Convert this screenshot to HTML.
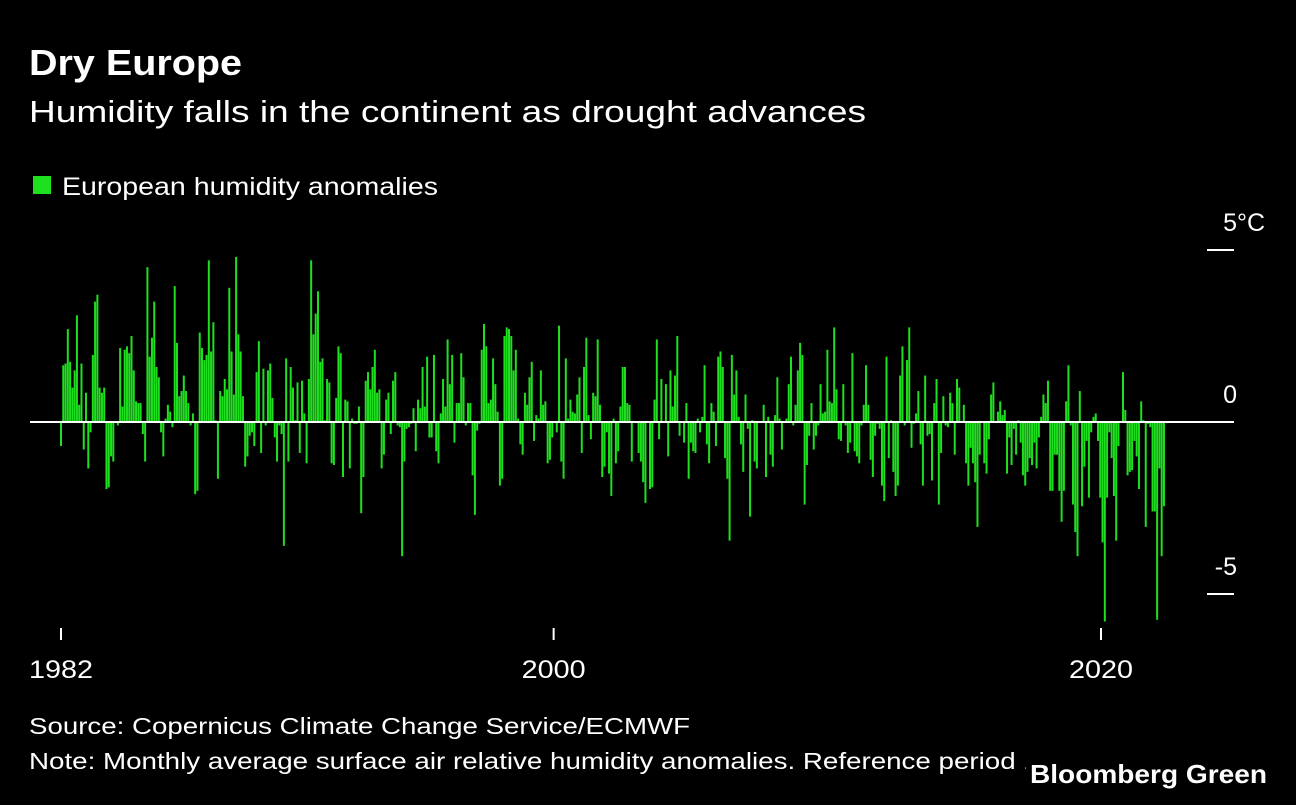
<!DOCTYPE html>
<html><head><meta charset="utf-8">
<style>
html,body{margin:0;padding:0;background:#000;}
body{width:1296px;height:800px;overflow:hidden;position:relative;font-family:"Liberation Sans",Arial,sans-serif;color:#fff;}
svg text{font-family:"Liberation Sans",Arial,sans-serif;}
</style></head>
<body>
<svg id="chart" width="1296" height="800" viewBox="0 0 1296 800" xmlns="http://www.w3.org/2000/svg">
<rect x="0" y="0" width="1296" height="800" fill="#000"/>
<text x="29" y="75" font-size="36" font-weight="bold" fill="#fff" textLength="213" lengthAdjust="spacingAndGlyphs">Dry Europe</text>
<text x="29" y="122" font-size="31" fill="#fff" textLength="837" lengthAdjust="spacingAndGlyphs">Humidity falls in the continent as drought advances</text>
<rect x="33" y="176" width="18" height="18" fill="#1ee01e"/>
<text x="62" y="195" font-size="25" fill="#fff" textLength="376" lengthAdjust="spacingAndGlyphs">European humidity anomalies</text>
<g id="bars"></g>
<g id="axes"></g>
<text x="29" y="734" font-size="23" fill="#fff" textLength="661" lengthAdjust="spacingAndGlyphs">Source: Copernicus Climate Change Service/ECMWF</text>
<text x="29" y="769" font-size="23" fill="#fff" textLength="1127" lengthAdjust="spacingAndGlyphs">Note: Monthly average surface air relative humidity anomalies. Reference period 1991-2020</text>
<rect x="1026" y="748" width="270" height="52" fill="#000"/>
<text x="1030" y="783" font-size="26" font-weight="bold" fill="#fff" textLength="237" lengthAdjust="spacingAndGlyphs">Bloomberg Green</text>
</svg>
<script>
const startYear = 1982;
const endYear = 2022.3;
const yTicks = [5, 0, -5];
const yTickLabels = ["5", "0", "-5"];
const xTicks = [1982, 2000, 2020];
const values = [
-0.7,1.65,1.7,2.7,1.75,1.0,1.5,3.1,0.5,1.7,-0.8,0.85,-1.35,-0.3,1.95,3.5,3.7,1.0,0.85,1.0,-1.95,-1.9,-1.0,-1.15,0.02,-0.1,2.15,0.45,2.1,2.2,2.0,2.5,1.5,0.6,0.55,0.55,-0.35,-1.15,4.5,1.9,2.45,3.5,1.6,1.3,-0.3,-1.0,0.1,
0.5,0.3,-0.15,3.95,2.3,0.75,0.9,1.35,0.9,0.55,-0.1,0.25,-2.1,-2.0,2.6,2.15,1.8,1.95,4.7,2.05,2.9,0.05,-1.65,0.9,0.75,1.25,0.95,3.9,2.05,0.8,4.8,2.55,2.05,0.75,-1.3,-1.0,-0.4,-0.3,-0.7,1.45,2.35,-0.9,1.55,-0.1,1.5,1.7,0.7,-0.45,
-1.15,-0.1,-0.35,-3.6,1.85,-1.15,1.6,1.0,0.05,1.15,-0.9,1.2,0.25,-1.2,1.25,4.7,2.55,3.15,3.8,1.75,1.85,0.05,1.25,1.15,-1.2,-1.25,0.7,2.2,2.0,-1.6,0.65,0.6,-1.35,0.1,-0.05,-0.05,0.45,-2.65,-1.6,1.2,1.45,0.95,1.6,2.1,0.85,0.95,-1.35,-0.95,0.65,
0.85,-0.35,1.2,1.45,-0.1,-0.15,-3.9,-1.15,-0.2,-0.15,-0.05,0.4,-0.85,0.65,0.4,1.6,0.45,1.9,-0.45,-0.45,1.95,-0.85,-1.2,0.25,1.25,0.45,2.4,1.1,1.95,-0.6,0.55,0.55,2.0,1.3,-0.1,0.55,0.55,-1.55,-2.7,-0.25,-0.05,2.1,2.85,2.2,0.55,0.65,1.85,1.1,
0.3,-1.85,-1.65,2.5,2.75,2.7,2.5,1.5,2.1,0.1,-0.65,-0.95,0.85,0.5,1.3,1.75,-0.55,0.2,0.1,1.5,0.5,0.6,-1.2,-1.1,-0.45,0.02,-0.3,2.8,-1.15,-1.65,1.85,0.1,0.65,0.3,0.25,0.8,1.3,-0.9,1.6,2.45,0.2,-0.5,0.85,0.75,2.4,0.5,-1.6,-1.3,
-0.3,-1.5,-2.15,0.1,-1.2,-0.85,0.45,1.6,1.6,0.55,0.5,-1.15,0.02,0.02,-0.9,-1.15,-1.75,-2.35,0.02,-1.95,-1.9,0.65,2.4,-0.5,1.25,0.03,1.1,-1.0,1.5,0.45,1.35,2.5,-0.4,0.02,-0.6,0.55,-1.65,-0.6,-0.85,-0.9,0.1,-0.3,0.15,1.65,-0.65,-1.2,0.55,0.3,
-0.7,1.9,2.05,1.6,-1.05,-1.65,-3.45,1.95,0.8,1.5,0.15,-0.65,-1.45,0.8,-0.2,-2.75,0.05,-1.15,-1.35,0.02,0.02,0.5,-1.6,0.15,-0.95,-1.3,0.2,1.3,0.1,-0.8,0.02,0.1,1.1,1.9,-0.1,0.5,1.5,2.3,1.95,-2.4,-1.25,-0.4,0.55,-0.8,-0.4,-0.1,1.1,0.25,
0.3,2.1,0.6,0.55,2.75,0.95,-0.5,-0.55,1.1,-0.1,-0.9,-0.6,2.0,-0.85,-1.0,-1.2,-0.1,0.5,1.65,0.5,-1.1,-1.6,-0.4,-0.05,-0.2,-1.85,-2.3,1.9,-1.05,0.05,-1.45,-2.15,-1.85,1.35,2.2,-0.1,1.8,2.75,-0.75,-0.05,0.25,0.9,-0.65,-1.85,1.35,-0.4,-0.35,-1.7,0.55,
1.25,-2.4,-0.9,0.75,-0.1,-0.15,0.85,0.55,-0.95,1.25,1.0,0.02,0.5,-1.2,-1.85,-0.75,-1.2,-1.75,-3.05,-0.95,0.02,-1.2,-1.5,-0.5,0.8,1.15,0.02,0.3,0.6,0.2,0.35,-1.5,-0.45,-1.25,-0.2,-0.95,0.05,-0.6,-1.55,-1.85,-1.45,-1.05,-1.25,-0.6,-1.35,-0.45,0.15,0.8,
0.55,1.2,-2.0,-2.0,-0.95,-0.95,-2.0,-2.9,-2.0,0.6,1.65,-0.1,-2.4,-3.2,-3.9,0.9,-2.45,-1.3,-0.55,-2.2,-0.3,0.15,0.25,-0.55,-2.2,-3.5,-5.8,-2.2,-0.3,-1.05,-2.15,-3.45,-0.7,0.02,1.45,0.35,-1.55,-1.45,-1.4,-0.55,-1.0,-1.95,0.6,0.05,-3.05,-0.05,-0.15,-2.6,-2.6,-5.75,-1.35,-3.9,-2.45
];
const NS = "http://www.w3.org/2000/svg";
const xYear = y => 61 + (y - 1982) * (1101 - 61) / 38;
const yVal = v => 422 - v * 34.4;
const barsG = document.getElementById('bars');
const n = values.length;
values.forEach((v, i) => {
  const yr = startYear + i * (endYear - startYear) / (n - 1);
  const cx = xYear(yr);
  const r = document.createElementNS(NS, 'rect');
  
  
  r.setAttribute('x', (cx - 1).toFixed(2));
  r.setAttribute('width', 2);
  r.setAttribute('y', Math.min(yVal(v), yVal(0)).toFixed(2));
  r.setAttribute('height', Math.max(Math.abs(yVal(v) - yVal(0)), 0.5).toFixed(2));
  r.setAttribute('fill', '#1ee01e');
  barsG.appendChild(r);
});
const axG = document.getElementById('axes');
const zl = document.createElementNS(NS, 'line');


zl.setAttribute('x1', 30); zl.setAttribute('x2', 1234);
zl.setAttribute('y1', yVal(0)); zl.setAttribute('y2', yVal(0));
zl.setAttribute('stroke', '#fff'); zl.setAttribute('stroke-width', 2);
axG.appendChild(zl);
yTicks.forEach((t, i) => {
  const l = document.createElementNS(NS, 'line');
  
  
  l.setAttribute('x1', 1207); l.setAttribute('x2', 1234);
  l.setAttribute('y1', yVal(t)); l.setAttribute('y2', yVal(t));
  l.setAttribute('stroke', '#fff'); l.setAttribute('stroke-width', 2);
  axG.appendChild(l);
  const tx = document.createElementNS(NS, 'text');
  
  
  tx.setAttribute('x', 1237); tx.setAttribute('y', yVal(t) - 19);
  tx.setAttribute('text-anchor', 'end');
  tx.setAttribute('font-size', 25); tx.setAttribute('fill', '#fff');
  tx.textContent = yTickLabels[i];
  axG.appendChild(tx);
});
const unit = document.createElementNS(NS, 'text');


unit.setAttribute('x', 1237); unit.setAttribute('y', yVal(5) - 19);
unit.setAttribute('font-size', 25); unit.setAttribute('fill', '#fff');
unit.textContent = '°C';
axG.appendChild(unit);
xTicks.forEach(t => {
  const l = document.createElementNS(NS, 'line');
  
  
  l.setAttribute('x1', xYear(t)); l.setAttribute('x2', xYear(t));
  l.setAttribute('y1', 628); l.setAttribute('y2', 640);
  l.setAttribute('stroke', '#fff'); l.setAttribute('stroke-width', 2);
  axG.appendChild(l);
  const tx = document.createElementNS(NS, 'text');
  
  
  tx.setAttribute('x', xYear(t) - 32); tx.setAttribute('y', 678);
  tx.setAttribute('font-size', 25); tx.setAttribute('fill', '#fff');
  tx.setAttribute('textLength', 64);
  tx.setAttribute('lengthAdjust', 'spacingAndGlyphs');
  tx.textContent = t;
  axG.appendChild(tx);
});
</script>
</body></html>
